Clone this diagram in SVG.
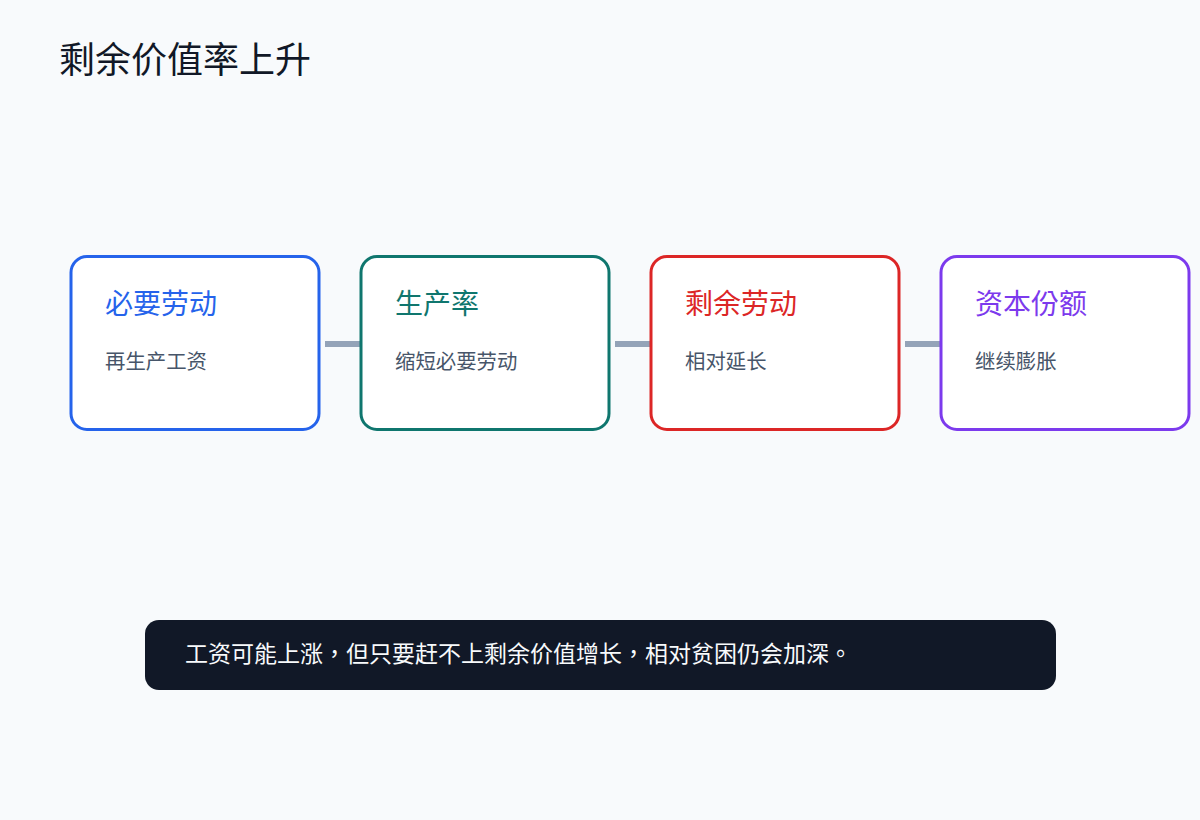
<svg xmlns="http://www.w3.org/2000/svg" width="1200" height="820" viewBox="0 0 1200 820">
<style>
text{font-family:"Noto Sans CJK TC","Noto Sans",sans-serif}
.box{fill:#ffffff;stroke-width:3}
.ttl{font-size:28px}
.sub{font-size:20.4px;fill:#475569}
.conn{stroke:#94a3b8;stroke-width:6}
</style>
<rect width="1200" height="820" fill="#f8fafc"/>
<text x="59" y="73" font-size="36" fill="#111827">剩余价值率上升</text>
<g id="connectors">
<line class="conn" x1="325" y1="344" x2="361" y2="344"/>
<line class="conn" x1="615" y1="344" x2="651" y2="344"/>
<line class="conn" x1="905" y1="344" x2="941" y2="344"/>
</g>
<g id="node1">
<rect class="box" x="71" y="256.5" width="248" height="173" rx="16" stroke="#2563eb"/>
<text class="ttl" x="105" y="314" fill="#2563eb">必要劳动</text>
<text class="sub" x="105" y="369">再生产工资</text>
</g>
<g id="node2">
<rect class="box" x="361" y="256.5" width="248" height="173" rx="16" stroke="#0f766e"/>
<text class="ttl" x="395" y="314" fill="#0f766e">生产率</text>
<text class="sub" x="395" y="369">缩短必要劳动</text>
</g>
<g id="node3">
<rect class="box" x="651" y="256.5" width="248" height="173" rx="16" stroke="#dc2626"/>
<text class="ttl" x="685" y="314" fill="#dc2626">剩余劳动</text>
<text class="sub" x="685" y="369">相对延长</text>
</g>
<g id="node4">
<rect class="box" x="941" y="256.5" width="248" height="173" rx="16" stroke="#7c3aed"/>
<text class="ttl" x="975" y="314" fill="#7c3aed">资本份额</text>
<text class="sub" x="975" y="369">继续膨胀</text>
</g>
<g id="note">
<rect x="145" y="620" width="911" height="70" rx="14" fill="#111827"/>
<text x="185" y="662" font-size="23" fill="#f8fafc">工资可能上涨，但只要赶不上剩余价值增长，相对贫困仍会加深。</text>
</g>
</svg>
